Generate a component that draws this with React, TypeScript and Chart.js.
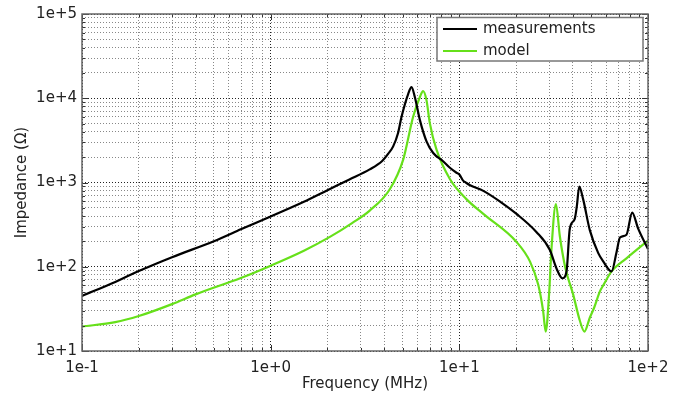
import React, { useEffect, useRef } from 'react';
import { Chart, registerables } from 'chart.js';

Chart.register(...registerables);

// ---- data ----
const measFreq = [0.1, 0.15, 0.2, 0.3, 0.5, 0.7, 1.0, 1.5, 2.0, 2.6, 3.35, 3.9, 4.2, 4.46, 4.73, 4.94, 5.36, 5.58, 5.81, 6.18, 6.7, 7.27, 8.2, 8.91, 9.66, 10.0, 10.5, 10.7, 11.4, 13.4, 16.5, 20.1, 25.6, 30.2, 32.7, 35.2, 37.0, 38.5, 40.9, 42.0, 43.2, 45.3, 49.2, 54.5, 58.0, 64.1, 68.2, 71.0, 76.9, 82.4, 88.7, 100];
const measZ = [45, 66, 89, 130, 201, 280, 395, 590, 810, 1080, 1430, 1800, 2200, 2685, 3850, 6040, 11300, 13550, 10350, 5500, 3080, 2240, 1790, 1495, 1306, 1248, 1045, 1016, 927, 796, 590, 424, 259, 158, 96, 73, 88, 283, 371, 532, 895, 635, 270, 145, 115, 88, 151, 222, 240, 440, 283, 162];

const modelFreq = [0.1, 0.15, 0.2, 0.3, 0.4, 0.7, 1.0, 1.5, 2.06, 2.7, 3.35, 4.28, 5.04, 5.69, 6.18, 6.43, 6.7, 6.98, 7.57, 8.91, 10.9, 13.4, 20.1, 23.7, 26.2, 27.8, 28.7, 29.9, 30.8, 32.5, 34.1, 36.5, 40.1, 43.5, 46.0, 49.2, 51.8, 55.6, 58.1, 64.1, 76.9, 100];
const modelZ = [19.5, 22, 26, 36, 47, 74, 103, 155, 226, 330, 464, 832, 1870, 6040, 10350, 12180, 9440, 5030, 2450, 1100, 635, 424, 197, 115, 61, 30, 17, 47, 165, 555, 230, 96, 47, 23, 17, 25, 32.6, 51, 61, 88, 126, 205];

const seriesLabels = ['measurements', 'model'];
const seriesColors = ['#000000', '#66e01a'];

const xTickValues = [0.1, 1, 10, 100];
const xTickLabels = ['1e-1', '1e+0', '1e+1', '1e+2'];
const yTickValues = [10, 100, 1000, 10000, 100000];
const yTickLabels = ['1e+1', '1e+2', '1e+3', '1e+4', '1e+5'];

const xTitle = 'Frequency (MHz)';
const yTitle = 'Impedance (\u03A9)';

// ---- helpers ----
function allTicks(decades: number[]) {
  const out: number[] = [];
  for (let i = 0; i < decades.length; i++) {
    const d = decades[i];
    if (i === decades.length - 1) {
      out.push(d);
      break;
    }
    for (let k = 1; k < 10; k++) out.push(d * k);
  }
  return out;
}
function isMajor(v: number) {
  const l = Math.log10(v);
  return Math.abs(l - Math.round(l)) < 1e-6;
}
function labelFor(v: number, vals: number[], labels: string[]) {
  for (let i = 0; i < vals.length; i++) {
    if (Math.abs(Math.log10(v) - Math.log10(vals[i])) < 1e-6) return labels[i];
  }
  return '';
}

const FONT = 'DejaVu Sans';

const framePlugin = {
  id: 'frameAndLegend',
  afterDatasetsDraw(chart: any) {
    const { ctx, chartArea } = chart;
    const { left, right, top, bottom } = chartArea;
    const xs = chart.scales.x;
    const ys = chart.scales.y;
    ctx.save();
    // inward ticks
    ctx.strokeStyle = '#333';
    ctx.lineWidth = 1;
    allTicks(xTickValues).forEach((v) => {
      const px = Math.round(xs.getPixelForValue(v)) + 0.5;
      const len = isMajor(v) ? 6 : 3;
      ctx.beginPath();
      ctx.moveTo(px, bottom);
      ctx.lineTo(px, bottom - len);
      ctx.moveTo(px, top);
      ctx.lineTo(px, top + len);
      ctx.stroke();
    });
    allTicks(yTickValues).forEach((v) => {
      const py = Math.round(ys.getPixelForValue(v)) + 0.5;
      const len = isMajor(v) ? 6 : 3;
      ctx.beginPath();
      ctx.moveTo(left, py);
      ctx.lineTo(left + len, py);
      ctx.moveTo(right, py);
      ctx.lineTo(right - len, py);
      ctx.stroke();
    });
    // frame
    ctx.strokeStyle = '#666';
    ctx.lineWidth = 1.5;
    ctx.strokeRect(left, top, right - left, bottom - top);

    // legend
    const bx = right - 211;
    const by = top + 3.5;
    const bw = 206;
    const bh = 43.5;
    ctx.fillStyle = '#ffffff';
    ctx.fillRect(bx, by, bw, bh);
    ctx.strokeStyle = '#777';
    ctx.lineWidth = 1.5;
    ctx.strokeRect(bx, by, bw, bh);
    ctx.font = `15px "${FONT}"`;
    ctx.textBaseline = 'middle';
    ctx.textAlign = 'left';
    seriesLabels.forEach((lab, i) => {
      const yy = by + 11.5 + i * 22;
      ctx.strokeStyle = seriesColors[i];
      ctx.lineWidth = 2.2;
      ctx.beginPath();
      ctx.moveTo(bx + 6, yy);
      ctx.lineTo(bx + 40, yy);
      ctx.stroke();
      ctx.fillStyle = '#222';
      ctx.fillText(lab, bx + 46, yy);
    });
    ctx.restore();
  },
};

export default function App() {
  const ref = useRef<HTMLCanvasElement | null>(null);
  useEffect(() => {
    if (!ref.current) return;
    Chart.defaults.font.family = FONT;
    const chart = new Chart(ref.current, {
      type: 'line',
      data: {
        datasets: [
          {
            label: seriesLabels[0],
            data: measFreq.map((f, i) => ({ x: f, y: measZ[i] })),
            borderColor: seriesColors[0],
            borderWidth: 2.2,
            pointRadius: 0,
            cubicInterpolationMode: 'monotone',
            fill: false,
          },
          {
            label: seriesLabels[1],
            data: modelFreq.map((f, i) => ({ x: f, y: modelZ[i] })),
            borderColor: seriesColors[1],
            borderWidth: 2.2,
            pointRadius: 0,
            cubicInterpolationMode: 'monotone',
            fill: false,
          },
        ],
      },
      options: {
        animation: false,
        responsive: true,
        maintainAspectRatio: false,
        layout: { padding: { top: 9, right: 43, left: 0, bottom: 0 } },
        plugins: { legend: { display: false }, tooltip: { enabled: false } },
        scales: {
          x: {
            type: 'logarithmic',
            min: 0.1,
            max: 100,
            afterBuildTicks: (scale: any) => {
              scale.ticks = allTicks(xTickValues).map((v) => ({ value: v, major: isMajor(v) }));
            },
            afterFit: (scale: any) => {
              scale.height = 47;
            },
            ticks: {
              autoSkip: false,
              maxRotation: 0,
              padding: 8,
              color: '#222',
              font: { size: 15, family: FONT },
              callback: (v: any) => labelFor(Number(v), xTickValues, xTickLabels),
            },
            grid: {
              drawTicks: false,
              color: (c: any) => (c.tick && isMajor(c.tick.value) ? '#222' : '#888'),
              lineWidth: 1,
            },
            border: { display: false, dash: [1, 2] },
            title: {
              display: true,
              text: xTitle,
              color: '#222',
              font: { size: 15, family: FONT },
              padding: { top: 0, bottom: 5 },
            },
          },
          y: {
            type: 'logarithmic',
            min: 10,
            max: 100000,
            afterBuildTicks: (scale: any) => {
              scale.ticks = allTicks(yTickValues).map((v) => ({ value: v, major: isMajor(v) }));
            },
            afterFit: (scale: any) => {
              scale.width = 82;
            },
            ticks: {
              autoSkip: false,
              padding: 5,
              color: '#222',
              font: { size: 15, family: FONT },
              callback: (v: any) => labelFor(Number(v), yTickValues, yTickLabels),
            },
            grid: {
              drawTicks: false,
              color: (c: any) => (c.tick && isMajor(c.tick.value) ? '#222' : '#888'),
              lineWidth: 1,
            },
            border: { display: false, dash: [1, 2] },
            title: {
              display: true,
              text: yTitle,
              color: '#222',
              font: { size: 15, family: FONT },
              padding: { top: 13, bottom: 0 },
            },
          },
        },
      },
      plugins: [framePlugin],
    } as any);
    return () => chart.destroy();
  }, []);
  return (
    <div style={{ position: 'fixed', left: 0, top: 0, width: 691, height: 398, background: '#fff' }}>
      <canvas ref={ref} />
    </div>
  );
}
